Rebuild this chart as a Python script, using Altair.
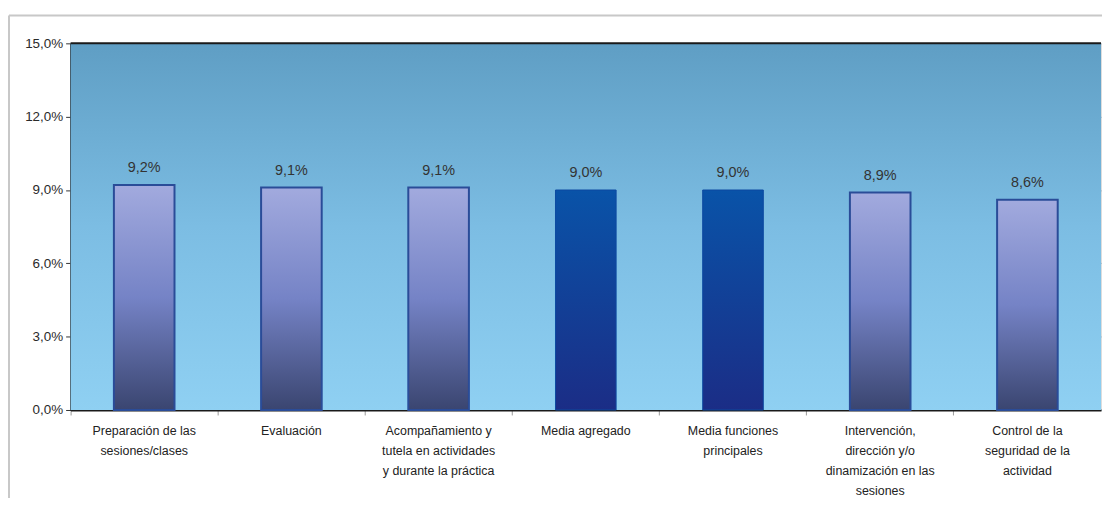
import altair as alt
import pandas as pd

categories = [
    "Preparación de las|sesiones/clases",
    "Evaluación",
    "Acompañamiento y|tutela en actividades|y durante la práctica",
    "Media agregado",
    "Media funciones|principales",
    "Intervención,|dirección y/o|dinamización en las|sesiones",
    "Control de la|seguridad de la|actividad",
]
values = [9.2, 9.1, 9.1, 9.0, 9.0, 8.9, 8.6]
is_mean = [False, False, False, True, True, False, False]
value_labels = ["9,2%", "9,1%", "9,1%", "9,0%", "9,0%", "8,9%", "8,6%"]
y_ticks = [0, 3, 6, 9, 12, 15]

df = pd.DataFrame({"cat": categories, "val": values, "mean": is_mean, "lab": value_labels})

W, H = 1037, 369
FONT = "Liberation Sans"

x = alt.X("cat:N", sort=categories, title=None,
          scale=alt.Scale(paddingInner=0, paddingOuter=0),
          axis=alt.Axis(labelExpr="split(datum.value, '|')", labelAngle=0,
                        labelFontSize=12.5, labelColor="#222", labelFont=FONT,
                        labelLineHeight=20, labelPadding=10, labelLimit=200,
                        bandPosition=0, tickColor="#999", tickSize=5,
                        domainColor="#1a1a1a", domainWidth=2, grid=False))
y = alt.Y("val:Q", title=None,
          scale=alt.Scale(domain=[0, 15], nice=False),
          axis=alt.Axis(values=y_ticks,
                        labelExpr="replace(format(datum.value, '.1f'), '.', ',') + '%'",
                        labelFontSize=13.5, labelColor="#2a2a2a", labelFont=FONT,
                        labelPadding=3, tickColor="#333", tickSize=5,
                        domainColor="#1a1a1a", domainWidth=2,
                        gridColor="#3f7fa5", gridOpacity=0.6, gridWidth=1))

bg = alt.Chart(pd.DataFrame({"a": [0]})).mark_rect(
    color=alt.Gradient(gradient="linear", x1=0, x2=0, y1=0, y2=1,
                       stops=[alt.GradientStop(color="#5f9ec4", offset=0),
                              alt.GradientStop(color="#7cbde3", offset=0.5),
                              alt.GradientStop(color="#8fd0f2", offset=1)])
).encode(x=alt.value(0), x2=alt.value(W), y=alt.value(0), y2=alt.value(H))

base = alt.Chart(df).encode(x=x, y=y)

light = base.transform_filter("!datum.mean").mark_bar(
    size=61, stroke="#2a4c98", strokeWidth=2,
    color=alt.Gradient(gradient="linear", x1=0, x2=0, y1=0, y2=1,
                       stops=[alt.GradientStop(color="#a2aade", offset=0),
                              alt.GradientStop(color="#7583c6", offset=0.5),
                              alt.GradientStop(color="#3a4570", offset=1)]))

dark = base.transform_filter("datum.mean").mark_bar(
    size=61, stroke="#0d4aa0", strokeWidth=1,
    color=alt.Gradient(gradient="linear", x1=0, x2=0, y1=0, y2=1,
                       stops=[alt.GradientStop(color="#0953a8", offset=0),
                              alt.GradientStop(color="#1b2d86", offset=1)]))

text = base.mark_text(dy=-17, fontSize=14.5, color="#333", font=FONT).encode(text="lab:N")

top_border = alt.Chart(pd.DataFrame({"a": [0]})).mark_rule(color="#1a1a1a", strokeWidth=2).encode(
    x=alt.value(0), x2=alt.value(W), y=alt.value(0))
frame_v = alt.Chart(pd.DataFrame({"a": [0]})).mark_rule(color="#c8c8c8", strokeWidth=2).encode(
    x=alt.value(-62), y=alt.value(-28), y2=alt.value(H + 200))
frame_h = alt.Chart(pd.DataFrame({"a": [0]})).mark_rule(color="#c8c8c8", strokeWidth=2).encode(
    x=alt.value(-62), x2=alt.value(W + 200), y=alt.value(-28))

chart = alt.layer(bg, light, dark, text, top_border, frame_v, frame_h).properties(
    width=W, height=H,
    autosize=alt.AutoSizeParams(type="none"),
    padding={"left": 63, "top": 34, "right": 1, "bottom": 87},
).configure_view(stroke=None).configure(background="white")

chart.save("out.html", embed_options={"renderer": "svg", "actions": False})
